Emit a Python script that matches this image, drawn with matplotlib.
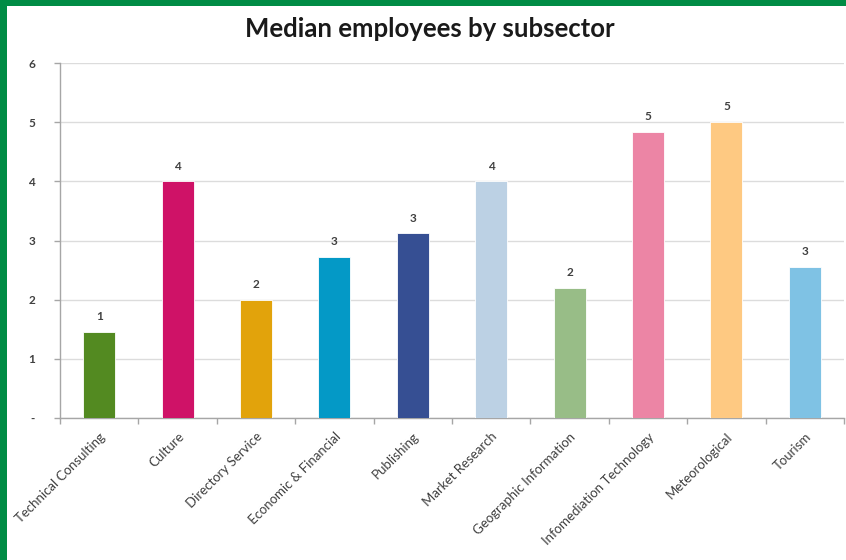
import matplotlib
matplotlib.use("Agg")
import matplotlib.pyplot as plt
from matplotlib.patches import Rectangle
import numpy as np

plt.rcParams['font.family'] = ['Lato', 'DejaVu Sans']

subsectors = ["Technical Consulting", "Culture", "Directory Service", "Economic & Financial",
              "Publishing", "Market Research", "Geographic Information",
              "Infomediation Technology", "Meteorological", "Tourism"]
median_employees = [1.45, 4.0, 2.0, 2.72, 3.12, 4.0, 2.2, 4.84, 5.0, 2.56]
bar_colors = ["#538A21", "#CF1267", "#E2A30B", "#0499C6", "#364F93",
              "#BCD1E4", "#98BD87", "#EC85A5", "#FEC982", "#7FC2E4"]
y_ticks = [0, 1, 2, 3, 4, 5, 6]
y_tick_labels = ["-", "1", "2", "3", "4", "5", "6"]
title = "Median employees by subsector"

W, H = 846, 560
fig = plt.figure(figsize=(W / 100, H / 100), dpi=100)
fig.patch.set_facecolor("white")

# frame along the left and top edges
fig.patches.append(Rectangle((0, 0), 7 / W, 1, transform=fig.transFigure,
                             facecolor="#008C45", edgecolor="none", zorder=10))
fig.patches.append(Rectangle((0, 1 - 6 / H), 1, 6 / H, transform=fig.transFigure,
                             facecolor="#008C45", edgecolor="none", zorder=10))

left, right, top, bottom = 60, 844, 63, 418
ax = fig.add_axes([left / W, 1 - bottom / H, (right - left) / W, (bottom - top) / H])

text_color = "#404040"
axis_color = "#A6A6A6"

x = np.arange(len(subsectors))
bars = ax.bar(x, median_employees, width=0.41, color=bar_colors,
              edgecolor="white", linewidth=0.6, zorder=3)

for xi, v in zip(x, median_employees):
    ax.annotate(f"{v:.0f}", (xi, v), xytext=(0, 7), textcoords="offset points",
                ha="center", va="bottom", fontsize=8.5, color=text_color,
                fontweight="bold")

ax.set_xlim(-0.5, len(subsectors) - 0.5)
ax.set_ylim(0, 6)

ax.set_yticks(y_ticks)
ax.set_yticklabels(y_tick_labels)
ax.yaxis.grid(True, color="#DCDCDC", linewidth=1, zorder=0)
ax.set_axisbelow(True)

ax.set_xticks(x)
ax.set_xticklabels(subsectors, rotation=45, ha="right", rotation_mode="anchor")
ax.set_xticks(np.arange(len(subsectors) + 1) - 0.5, minor=True)
ax.tick_params(axis="x", which="major", length=0, pad=9, labelsize=9.5,
               labelcolor=text_color)
ax.tick_params(axis="x", which="minor", length=4, color=axis_color, width=1)
ax.tick_params(axis="y", length=4, color=axis_color, width=1, pad=14,
               labelsize=8.5, labelcolor=text_color)
for lab in ax.get_yticklabels():
    lab.set_fontweight("bold")

for s in ["top", "right"]:
    ax.spines[s].set_visible(False)
for s in ["left", "bottom"]:
    ax.spines[s].set_color(axis_color)
    ax.spines[s].set_linewidth(1)

fig.text(430 / W, 1 - 29 / H, title, ha="center", va="center",
         fontsize=18.5, fontweight="bold", color="#1A1A1A")

fig.savefig("out.png", dpi=100, facecolor="white")
